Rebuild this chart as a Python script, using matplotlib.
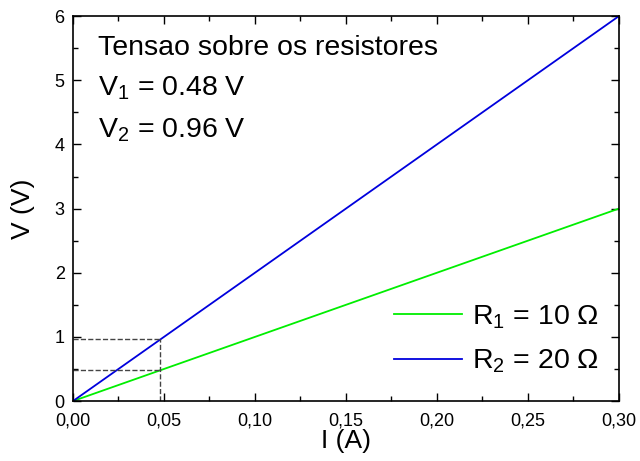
import numpy as np
import matplotlib
matplotlib.use("Agg")
import matplotlib.pyplot as plt

plt.rcParams["font.family"] = ["Liberation Sans", "DejaVu Sans"]
plt.rcParams["mathtext.fontset"] = "custom"
plt.rcParams["mathtext.rm"] = "Liberation Sans"
plt.rcParams["mathtext.it"] = "Liberation Sans:italic"

# data
current = [0.0, 0.30]
R1 = 10
R2 = 20
I_op = 0.048
V1 = 0.48
V2 = 0.96
xticks = [0.0, 0.05, 0.10, 0.15, 0.20, 0.25, 0.30]
xtick_labels = ["0,00", "0,05", "0,10", "0,15", "0,20", "0,25", "0,30"]
yticks = [0, 1, 2, 3, 4, 5, 6]

I = np.array(current)

fig = plt.figure(figsize=(6.4, 4.61), dpi=100)
ax = fig.add_axes([0.114, 0.130, 0.853, 0.835])

ax.plot(I, R1 * I, color="#00ee00", lw=1.3, label=r"R$_1$ = 10 $\Omega$")
ax.plot(I, R2 * I, color="#0000dd", lw=1.3, label=r"R$_2$ = 20 $\Omega$")

ax.plot([I_op, I_op], [0, V2], ls="--", color="#444444", lw=1)
ax.plot([0, I_op], [V1, V1], ls="--", color="#444444", lw=1)
ax.plot([0, I_op], [V2, V2], ls="--", color="#444444", lw=1)

ax.set_xlim(0, 0.30)
ax.set_ylim(0, 6)
ax.set_xticks(xticks)
ax.set_xticklabels(xtick_labels)
ax.set_yticks(yticks)
ax.set_xticks(np.arange(0.025, 0.30, 0.05), minor=True)
ax.set_yticks(np.arange(0.5, 6, 1.0), minor=True)
ax.tick_params(which="both", direction="in", top=True, right=True, labelsize=13)
ax.tick_params(which="major", length=6, width=1)
ax.tick_params(which="minor", length=3.5, width=1)
ax.tick_params(axis="x", which="major", pad=8)
ax.tick_params(axis="y", which="major", pad=6)
for s in ax.spines.values():
    s.set_linewidth(1.2)

ax.set_xlabel("I (A)", fontsize=19, labelpad=0)
ax.set_ylabel("V (V)", fontsize=19, labelpad=14)

ax.text(0.0137, 5.50, "Tensao sobre os resistores", fontsize=20.5, va="center")
ax.text(0.0137, 4.88, r"V$_1$ = 0.48 V", fontsize=20.5, va="center")
ax.text(0.0137, 4.22, r"V$_2$ = 0.96 V", fontsize=20.5, va="center")

ax.legend(loc="lower right", frameon=False, fontsize=20.5, handlelength=2.4,
          handletextpad=0.35, bbox_to_anchor=(1.01, 0.0), labelspacing=0.6)

fig.savefig("out.png", dpi=100)
